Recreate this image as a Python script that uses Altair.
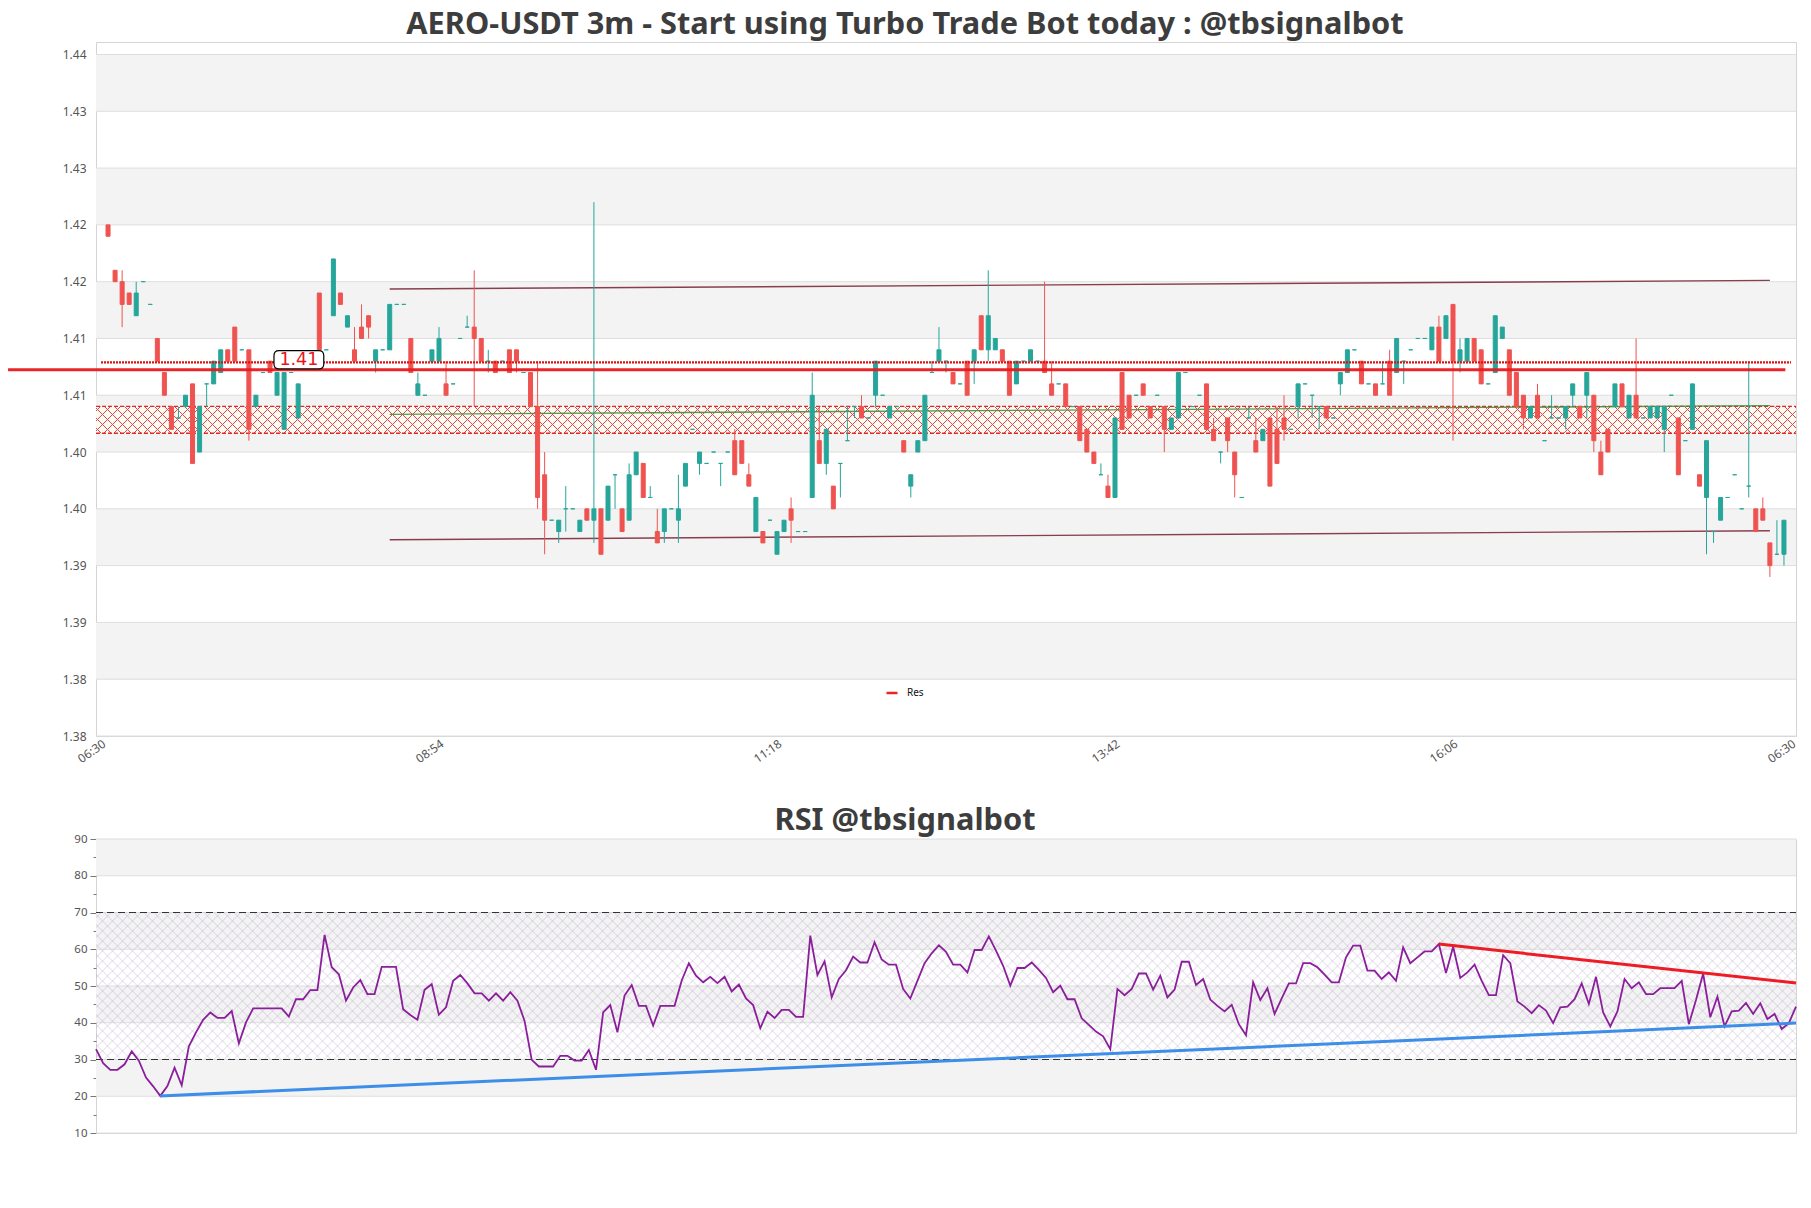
import altair as alt
import pandas as pd

# ---------------- data (prices in thousandths, e.g. 1425 = 1.425) ----------------
candle_index = list(range(1, 240))

open_k = [1425,1421,1420,1419,1417,1420,1418,1415,1412,1409,
 1408,1409,1411,1405,1411,1411,1412,1414,1416,1414,
 1414,1409,1412,1413,1410,1407,1412,1408,1413,1413,
 1419,1414,1417,1419,1416,1414,1416,1417,1413,1414,
 1414,1418,1418,1415,1410,1410,1413,1413,1411,1411,
 1415,1416,1416,1415,1413,1413,1413,1414,1414,1412,
 1412,1409,1403,1399,1398,1400,1400,1398,1400,1399,
 1400,1399,1403,1400,1399,1403,1404,1401,1398,1398,
 1400,1399,1402,1407,1404,1404,1405,1404,1405,1406,
 1406,1403,1398,1398,1399,1396,1398,1400,1398,1398,
 1401,1406,1404,1402,1404,1406,1409,1409,1408,1410,
 1410,1408,1409,1406,1402,1405,1406,1412,1413,1413,
 1412,1411,1413,1413,1417,1414,1414,1414,1413,1411,
 1413,1413,1413,1413,1411,1411,1411,1409,1409,1407,
 1405,1403,1402,1401,1412,1410,1410,1411,1409,1410,
 1409,1407,1408,1412,1409,1410,1411,1407,1405,1408,
 1405,1401,1408,1406,1406,1408,1407,1408,1407,1409,
 1411,1410,1409,1409,1408,1411,1412,1414,1413,1411,
 1411,1411,1413,1412,1413,1414,1415,1415,1414,1416,
 1415,1418,1413,1413,1415,1414,1411,1412,1415,1414,
 1412,1410,1408,1410,1406,1408,1408,1408,1410,1409,
 1410,1410,1405,1407,1409,1411,1408,1410,1408,1408,
 1408,1407,1410,1408,1406,1407,1403,1401,1398,1399,
 1401,1403,1400,1402,1400,1400,1397,1396,1396]

close_k = [1424,1420,1418,1418,1419,1420,1418,1413,1410,1407,
 1408,1410,1404,1409,1411,1413,1414,1413,1413,1414,
 1407,1410,1412,1412,1412,1412,1412,1411,1413,1413,
 1414,1414,1422,1418,1417,1413,1415,1416,1414,1414,
 1418,1418,1418,1412,1411,1410,1414,1415,1410,1411,
 1415,1416,1415,1413,1413,1412,1413,1412,1413,1412,
 1409,1401,1399,1399,1399,1400,1400,1399,1399,1400,
 1396,1402,1403,1398,1403,1405,1401,1401,1397,1400,
 1400,1400,1404,1407,1405,1404,1405,1404,1405,1403,
 1404,1402,1401,1397,1399,1398,1399,1399,1398,1398,
 1410,1404,1407,1400,1404,1406,1409,1408,1408,1413,
 1410,1409,1409,1405,1403,1406,1410,1412,1414,1413,
 1411,1411,1410,1414,1414,1417,1415,1413,1410,1413,
 1413,1414,1413,1412,1410,1411,1409,1409,1406,1405,
 1404,1403,1401,1408,1407,1408,1410,1410,1408,1410,
 1407,1408,1412,1412,1409,1410,1407,1406,1405,1406,
 1403,1401,1408,1405,1407,1402,1404,1407,1407,1411,
 1411,1410,1409,1408,1408,1412,1414,1414,1411,1411,
 1410,1411,1410,1415,1413,1414,1415,1415,1416,1413,
 1417,1413,1414,1415,1413,1411,1411,1417,1416,1410,
 1409,1408,1409,1408,1406,1408,1408,1409,1411,1408,
 1412,1406,1403,1405,1411,1409,1410,1408,1408,1409,
 1409,1409,1410,1403,1406,1411,1402,1406,1398,1401,
 1401,1403,1400,1402,1398,1399,1395,1396,1399]

high_k = [1425,1421,1421,1419,1420,1420,1418,1415,1412,1409,
 1409,1410,1411,1409,1411,1413,1414,1414,1416,1414,
 1414,1410,1412,1413,1412,1412,1412,1411,1413,1413,
 1419,1414,1422,1419,1417,1416,1418,1417,1414,1414,
 1418,1418,1418,1415,1412,1410,1414,1416,1413,1411,
 1415,1417,1421,1415,1414,1413,1413,1414,1414,1412,
 1412,1413,1405,1399,1399,1402,1400,1399,1400,1427,
 1400,1402,1403,1400,1404,1405,1404,1402,1400,1400,
 1400,1403,1404,1407,1405,1404,1405,1404,1405,1407,
 1406,1404,1401,1398,1399,1398,1399,1401,1398,1398,
 1412,1409,1407,1402,1404,1409,1409,1410,1408,1413,
 1410,1409,1409,1406,1403,1406,1410,1413,1416,1413,
 1412,1411,1413,1414,1417,1421,1415,1414,1413,1413,
 1413,1414,1413,1420,1413,1411,1411,1409,1409,1407,
 1405,1404,1403,1408,1412,1410,1410,1411,1409,1410,
 1409,1408,1412,1412,1409,1410,1411,1408,1405,1408,
 1405,1401,1409,1408,1407,1408,1409,1410,1407,1411,
 1411,1410,1409,1409,1408,1412,1414,1414,1413,1411,
 1411,1413,1414,1415,1413,1414,1415,1415,1416,1417,
 1417,1418,1415,1415,1415,1414,1411,1417,1416,1414,
 1412,1410,1409,1411,1406,1410,1408,1409,1411,1409,
 1412,1410,1406,1407,1411,1411,1410,1415,1408,1409,
 1409,1409,1410,1408,1406,1411,1403,1406,1398,1401,
 1401,1403,1400,1413,1400,1401,1397,1399,1399]

low_k = [1424,1420,1416,1418,1417,1420,1418,1413,1410,1407,
 1408,1409,1404,1405,1409,1411,1412,1413,1413,1414,
 1406,1409,1412,1412,1410,1407,1412,1408,1413,1413,
 1414,1414,1417,1418,1416,1413,1415,1415,1412,1414,
 1414,1418,1418,1412,1410,1410,1413,1413,1410,1411,
 1415,1416,1409,1413,1412,1412,1413,1412,1412,1412,
 1409,1400,1396,1399,1397,1398,1400,1398,1399,1397,
 1396,1399,1400,1398,1399,1403,1401,1401,1397,1397,
 1400,1397,1402,1407,1403,1404,1405,1402,1405,1403,
 1404,1402,1398,1397,1399,1396,1398,1397,1398,1398,
 1401,1404,1403,1400,1401,1406,1408,1408,1408,1409,
 1410,1408,1409,1405,1401,1405,1406,1412,1413,1412,
 1411,1411,1410,1411,1414,1413,1414,1413,1410,1411,
 1413,1413,1413,1412,1410,1411,1409,1409,1406,1405,
 1404,1403,1401,1401,1407,1408,1410,1410,1408,1410,
 1405,1407,1408,1412,1409,1410,1407,1406,1404,1405,
 1401,1401,1408,1405,1406,1402,1404,1406,1407,1408,
 1411,1408,1407,1408,1408,1410,1412,1414,1411,1411,
 1410,1411,1410,1412,1411,1414,1415,1415,1414,1413,
 1415,1406,1412,1413,1413,1411,1411,1412,1415,1410,
 1409,1407,1408,1408,1406,1408,1408,1407,1409,1408,
 1408,1405,1403,1405,1409,1409,1408,1408,1408,1408,
 1408,1405,1410,1403,1406,1407,1402,1396,1397,1399,
 1401,1403,1400,1401,1398,1399,1394,1396,1395]

rsi_values = [32.8, 29.0, 27.2, 27.2, 28.7, 32.2, 29.7, 25.1, 22.7, 20.1,
 22.8, 27.8, 23.0, 33.6, 37.4, 40.8, 42.8, 41.3, 41.3, 43.2,
 34.4, 40.1, 43.9, 43.9, 43.9, 43.9, 43.9, 41.7, 46.4, 46.4,
 48.9, 48.9, 63.9, 55.1, 53.2, 46.0, 49.6, 51.6, 47.8, 47.8,
 55.2, 55.2, 55.2, 43.7, 42.1, 40.8, 49.0, 50.5, 42.2, 44.2,
 51.4, 53.0, 50.7, 48.0, 48.0, 46.0, 48.0, 46.0, 48.3, 46.0,
 40.5, 29.9, 28.1, 28.1, 28.1, 31.0, 31.0, 29.7, 29.7, 32.6,
 27.2, 42.8, 44.8, 37.4, 47.4, 50.3, 44.6, 44.6, 39.2, 44.6,
 44.6, 44.6, 51.5, 56.2, 52.8, 51.0, 52.5, 50.8, 52.5, 48.5,
 50.4, 46.6, 44.8, 38.5, 43.0, 41.3, 43.5, 43.5, 41.6, 41.6,
 63.7, 53.0, 56.7, 46.9, 51.9, 54.3, 58.0, 56.4, 56.4, 61.9,
 57.2, 55.8, 55.8, 49.2, 46.6, 51.4, 56.2, 58.9, 61.1, 59.3,
 55.8, 55.8, 53.7, 59.8, 59.8, 63.5, 59.6, 55.5, 50.1, 54.9,
 54.9, 56.4, 54.4, 52.2, 48.3, 50.1, 46.4, 46.4, 41.2, 39.4,
 37.6, 36.3, 32.8, 49.2, 47.5, 49.2, 53.4, 53.4, 49.0, 52.8,
 46.9, 49.0, 56.6, 56.6, 50.3, 51.9, 46.3, 44.6, 43.1, 44.9,
 39.6, 36.6, 51.0, 46.2, 49.4, 42.4, 46.6, 50.7, 50.7, 56.2,
 56.2, 55.1, 53.1, 51.0, 51.0, 57.8, 61.0, 61.0, 54.2, 54.2,
 51.9, 53.7, 51.4, 60.5, 56.2, 57.8, 59.4, 59.4, 61.4, 53.5,
 60.7, 52.2, 53.7, 55.8, 51.4, 47.5, 47.5, 58.4, 56.2, 45.8,
 44.4, 42.6, 44.8, 43.3, 39.9, 44.2, 44.4, 46.4, 50.7, 45.1,
 52.5, 42.8, 39.0, 43.1, 51.9, 49.4, 51.0, 47.8, 47.8, 49.4,
 49.4, 49.4, 51.4, 39.6, 46.2, 53.4, 41.5, 47.1, 39.0, 43.1,
 43.3, 45.4, 42.4, 45.3, 41.0, 42.4, 38.3, 39.9, 44.4]

x_tick_positions = [0, 48, 96, 144, 192, 240]
x_tick_labels = ["06:30", "08:54", "11:18", "13:42", "16:06", "06:30"]
price_ticks = [1.380, 1.385, 1.390, 1.395, 1.400, 1.405, 1.410, 1.415, 1.420, 1.425, 1.430, 1.435, 1.440]
price_tick_labels = ["1.38", "1.38", "1.39", "1.39", "1.40", "1.40", "1.41", "1.41", "1.42", "1.42", "1.43", "1.43", "1.44"]
price_band_lo = [1.385, 1.395, 1.405, 1.415, 1.425, 1.435]
price_band_hi = [1.390, 1.400, 1.410, 1.420, 1.430, 1.440]

zone_low, zone_high = 1.40665, 1.40902
res_level = 1.41224
dotted_level = 1.41290
res_line_x = [-13.2, 239.2]
channel_x = [41, 237]
upper_channel_y = [1.41935, 1.42011]
lower_channel_y = [1.39728, 1.39807]
mid_line_y = [1.40832, 1.40908]
price_label_pos = [28.1, 1.41312]
price_label_text = "1.41"

rsi_ticks = [10, 20, 30, 40, 50, 60, 70, 80, 90]
rsi_band_lo = [20, 40, 60, 80]
rsi_band_hi = [30, 50, 70, 90]
rsi_zone = [30, 70]
rsi_levels = [30, 70]
rsi_support_x, rsi_support_y = [9, 238], [20.1, 39.9]
rsi_resist_x, rsi_resist_y = [188, 238], [61.4, 50.8]

# ---------------- styling helpers ----------------
W, H_TOP, H_RSI = 1700, 694, 294
GREEN, RED = "#26a69a", "#ef5350"
FONT = "Noto Sans"


def hatch(w, h, period, lw, color, reverse=False):
    total = w + h
    c = (w + h) / (w * w + h * h)
    clear = "rgba(255,255,255,0)"
    stops = []
    s = period / 2.0
    while s - lw / 2.0 < total:
        a = max(0.0, (s - lw / 2.0) / total)
        b = min(1.0, (s + lw / 2.0) / total)
        a, b = round(a, 6), round(b, 6)
        stops += [{"offset": a, "color": clear}, {"offset": a, "color": color},
                  {"offset": b, "color": color}, {"offset": b, "color": clear}]
        s += period
    if reverse:
        return {"gradient": "linear", "x1": 0, "y1": 1, "x2": c * w, "y2": 1 - c * h, "stops": stops}
    return {"gradient": "linear", "x1": 0, "y1": 0, "x2": c * w, "y2": c * h, "stops": stops}


x_scale = alt.Scale(domain=[0, 240], nice=False, zero=False)
y_scale = alt.Scale(domain=[1.38, 1.4411], nice=False, zero=False)
x_axis = alt.Axis(values=x_tick_positions,
                  labelExpr="[" + ",".join("'%s'" % s for s in x_tick_labels) + "][round(datum.value/48)]",
                  labelAngle=325, labelAlign="right", labelBaseline="top", labelFontSize=12,
                  labelColor="#555555", ticks=False, domain=False, grid=False, labelPadding=2,
                  labelFlush=False, labelOverlap=False, title=None)
y_axis = alt.Axis(values=price_ticks,
                  labelExpr="[" + ",".join("'%s'" % s for s in price_tick_labels) + "][round((datum.value-1.38)/0.005)]",
                  ticks=False, domain=False, grid=False, labelPadding=10, labelFontSize=12,
                  labelColor="#555555", labelOverlap=False, labelFlush=False, title=None)


def X(f):
    return alt.X(f, type="quantitative", scale=x_scale, axis=x_axis, title=None)


def Y(f):
    return alt.Y(f, type="quantitative", scale=y_scale, axis=y_axis, title=None)


# ---------------- top (price) panel ----------------
candles = pd.DataFrame({
    "idx": candle_index,
    "o": [v / 1000 for v in open_k],
    "h": [v / 1000 for v in high_k],
    "l": [v / 1000 for v in low_k],
    "c": [v / 1000 for v in close_k],
})
updown = alt.condition("datum.c >= datum.o", alt.value(GREEN), alt.value(RED))

bands = alt.Chart(pd.DataFrame({"lo": price_band_lo, "hi": price_band_hi})).mark_rect(color="#f3f3f3").encode(
    x=alt.value(0), x2=alt.value(W), y=Y("lo"), y2="hi")
grid = alt.Chart(pd.DataFrame({"v": price_ticks})).mark_rule(color="#dedede", strokeWidth=1).encode(
    x=alt.value(0), x2=alt.value(W), y=Y("v"))

zone_df = pd.DataFrame({"lo": [zone_low], "hi": [zone_high]})
zone_px = (zone_high - zone_low) / (1.4411 - 1.38) * H_TOP
zone_base = alt.Chart(zone_df).mark_rect(fill="#fffbf2", opacity=0.8).encode(
    x=alt.value(0), x2=alt.value(W), y=Y("lo"), y2="hi")
zone_h1 = alt.Chart(zone_df).mark_rect(fill=hatch(W, zone_px, 10, 1.2, "#e64545")).encode(
    x=alt.value(0), x2=alt.value(W), y=Y("lo"), y2="hi")
zone_h2 = alt.Chart(zone_df).mark_rect(fill=hatch(W, zone_px, 10, 1.2, "#e64545", reverse=True)).encode(
    x=alt.value(0), x2=alt.value(W), y=Y("lo"), y2="hi")
zone_edges = alt.Chart(pd.DataFrame({"v": [zone_low, zone_high]})).mark_rule(
    color="#e02a2a", strokeDash=[4, 2], strokeWidth=1.4).encode(x=alt.value(0), x2=alt.value(W), y=Y("v"))

channel_df = pd.DataFrame({"x0": [channel_x[0]] * 2, "x1": [channel_x[1]] * 2,
                           "y0": [upper_channel_y[0], lower_channel_y[0]],
                           "y1": [upper_channel_y[1], lower_channel_y[1]]})
channel = alt.Chart(channel_df).mark_rule(color="#7d2a3c", strokeWidth=1.4, opacity=0.9).encode(
    x=X("x0"), x2="x1", y=Y("y0"), y2="y1")
mid_df = pd.DataFrame({"x0": [channel_x[0]], "x1": [channel_x[1]], "y0": [mid_line_y[0]], "y1": [mid_line_y[1]]})
mid = alt.Chart(mid_df).mark_rule(color="#3f8f3f", strokeWidth=1.3, opacity=0.9).encode(
    x=X("x0"), x2="x1", y=Y("y0"), y2="y1")

wicks = alt.Chart(candles).mark_rule(strokeWidth=1).encode(x=X("idx"), y=Y("l"), y2="h", color=updown)
bodies = alt.Chart(candles).mark_bar(width=4, strokeWidth=1).encode(
    x=X("idx"), y=Y("o"), y2="c", fill=updown, stroke=updown)

dotted = alt.Chart(pd.DataFrame({"x0": [0], "x1": [240], "y": [dotted_level]})).mark_rule(
    color="#e01010", strokeDash=[2, 1], strokeWidth=2.2).encode(x=X("x0"), x2="x1", y=Y("y"))
res = alt.Chart(pd.DataFrame({"x0": [res_line_x[0]], "x1": [res_line_x[1]], "y": [res_level], "name": ["Res"]})).mark_rule(
    strokeWidth=3, opacity=0.95).encode(
    x=X("x0"), x2="x1", y=Y("y"),
    color=alt.Color("name:N", scale=alt.Scale(domain=["Res"], range=["#e8191e"]),
                    legend=alt.Legend(orient="none", legendX=789, legendY=644, title=None,
                                      symbolType="stroke", symbolSize=121, symbolStrokeWidth=2.5,
                                      symbolStrokeColor="#c8161d", labelFontSize=10, labelColor="#111111",
                                      labelOffset=8, padding=0)))

label_df = pd.DataFrame({"x": [price_label_pos[0]], "y": [price_label_pos[1]], "t": [price_label_text]})
box_path = ("M -0.8,-0.3675 L 0.8,-0.3675 Q 1,-0.3675 1,-0.1675 L 1,0.1675 Q 1,0.3675 0.8,0.3675 "
            "L -0.8,0.3675 Q -1,0.3675 -1,0.1675 L -1,-0.1675 Q -1,-0.3675 -0.8,-0.3675 Z")
box = alt.Chart(label_df).mark_point(shape=box_path, size=2480, filled=True, fill="white", stroke="black",
                                     strokeWidth=1.2, opacity=1).encode(x=X("x"), y=Y("y"))
box_text = alt.Chart(label_df).mark_text(color="#e8141c", fontSize=17.5, align="center", baseline="middle",
                                         font="DejaVu Sans").encode(x=X("x"), y=Y("y"), text="t:N")

top = alt.layer(bands, grid, zone_base, zone_h1, zone_h2, zone_edges, channel, mid, wicks, bodies,
                dotted, res, box, box_text).properties(
    width=W, height=H_TOP,
    title=alt.TitleParams("AERO-USDT 3m - Start using Turbo Trade Bot today : @tbsignalbot",
                          fontSize=30.75, fontWeight="bold", color="#3d3d3d", font=FONT,
                          anchor="middle", dx=-41, offset=-22.3, baseline="alphabetic"))

# ---------------- RSI panel ----------------
rx_scale = alt.Scale(domain=[0, 238], nice=False, zero=False)
ry_scale = alt.Scale(domain=[10, 90], nice=False, zero=False)
ry_axis = alt.Axis(values=list(range(10, 91, 5)), labelExpr="datum.value % 10 == 0 ? datum.label : ''",
                   tickSize={"condition": {"test": "datum.value % 10 == 0", "value": 6}, "value": 3},
                   tickColor="#777777", domain=False, grid=False, labelPadding=3, labelFontSize=11.5,
                   labelColor="#555555", title=None)


def RX(f):
    return alt.X(f, type="quantitative", scale=rx_scale, axis=None, title=None)


def RY(f):
    return alt.Y(f, type="quantitative", scale=ry_scale, axis=ry_axis, title=None)


rsi_df = pd.DataFrame({"j": list(range(len(rsi_values))), "rsi": rsi_values})
rbands = alt.Chart(pd.DataFrame({"lo": rsi_band_lo, "hi": rsi_band_hi})).mark_rect(color="#f3f3f3").encode(
    x=alt.value(0), x2=alt.value(W), y=RY("lo"), y2="hi")
rgrid = alt.Chart(pd.DataFrame({"v": rsi_ticks})).mark_rule(color="#dedede", strokeWidth=1).encode(
    x=alt.value(0), x2=alt.value(W), y=RY("v"))
rz_df = pd.DataFrame({"lo": [rsi_zone[0]], "hi": [rsi_zone[1]]})
rz_px = (rsi_zone[1] - rsi_zone[0]) / 80 * H_RSI
rz1 = alt.Chart(rz_df).mark_rect(fill=hatch(W, rz_px, 10, 1.3, "rgba(150,125,175,0.15)")).encode(
    x=alt.value(0), x2=alt.value(W), y=RY("lo"), y2="hi")
rz2 = alt.Chart(rz_df).mark_rect(fill=hatch(W, rz_px, 10, 1.3, "rgba(150,125,175,0.15)", reverse=True)).encode(
    x=alt.value(0), x2=alt.value(W), y=RY("lo"), y2="hi")
rlevels = alt.Chart(pd.DataFrame({"v": rsi_levels})).mark_rule(color="#333333", strokeDash=[7, 4], strokeWidth=1.2).encode(
    x=alt.value(0), x2=alt.value(W), y=RY("v"))
rline = alt.Chart(rsi_df).mark_line(color="#8b1e9b", strokeWidth=1.8).encode(x=RX("j"), y=RY("rsi"))
support = alt.Chart(pd.DataFrame({"x0": [rsi_support_x[0]], "x1": [rsi_support_x[1]],
                                  "y0": [rsi_support_y[0]], "y1": [rsi_support_y[1]]})).mark_rule(
    color="#3d8ee8", strokeWidth=3).encode(x=RX("x0"), x2="x1", y=RY("y0"), y2="y1")
resist = alt.Chart(pd.DataFrame({"x0": [rsi_resist_x[0]], "x1": [rsi_resist_x[1]],
                                 "y0": [rsi_resist_y[0]], "y1": [rsi_resist_y[1]]})).mark_rule(
    color="#ee1c25", strokeWidth=3).encode(x=RX("x0"), x2="x1", y=RY("y0"), y2="y1")

rsi_chart = alt.layer(rbands, rgrid, rz1, rz2, rlevels, rline, support, resist).properties(
    width=W, height=H_RSI,
    title=alt.TitleParams("RSI @tbsignalbot", fontSize=30.75, fontWeight="bold", color="#3d3d3d", font=FONT,
                          anchor="middle", dx=-41, offset=-27.5, baseline="alphabetic"))

chart = alt.vconcat(top, rsi_chart, spacing=103, bounds="flush").resolve_scale(color="independent").properties(
    padding={"left": 6, "top": 8, "right": 10, "bottom": 10}
).configure(font=FONT, background="white").configure_view(stroke="#d4d4d4", strokeWidth=1)

chart.save("out.html", embed_options={"renderer": "svg", "actions": False})
